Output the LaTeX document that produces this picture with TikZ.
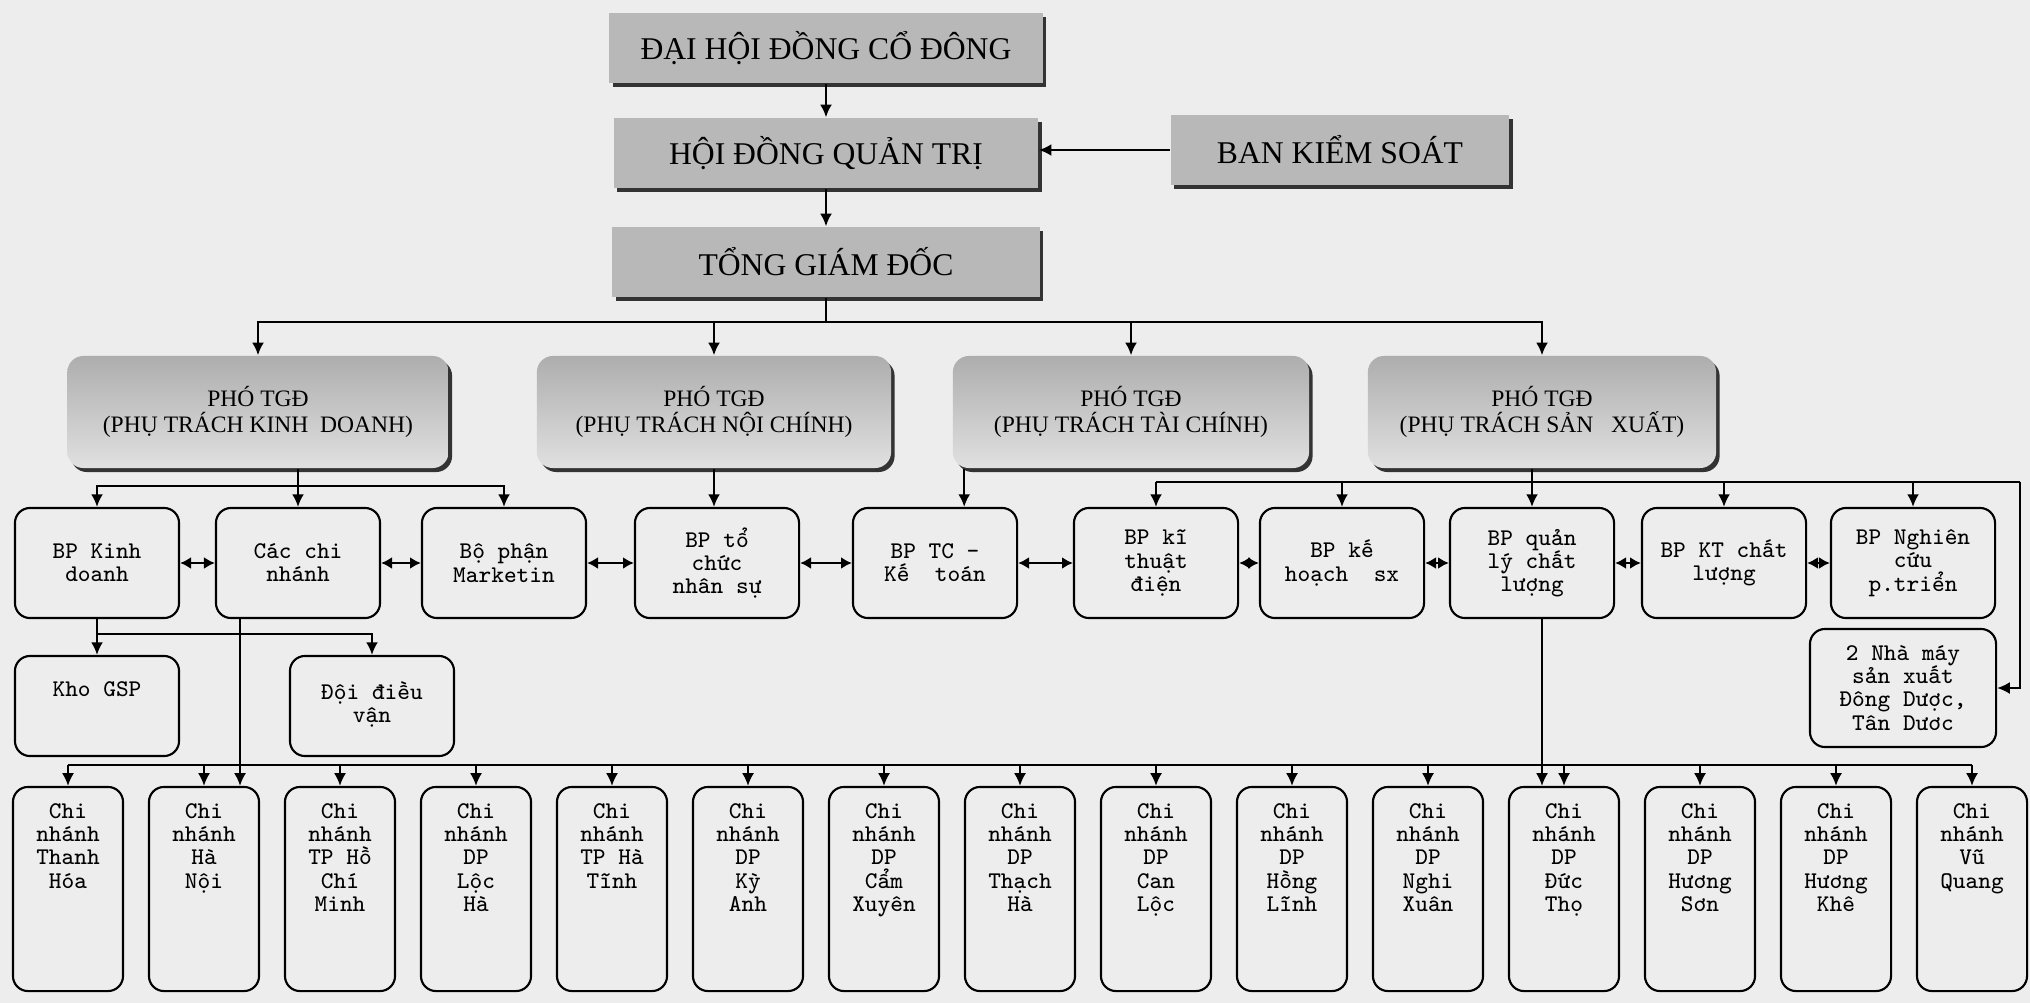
\documentclass[tikz,border=0pt]{standalone}
\usepackage{fontspec}
\setmainfont{Liberation Serif}
\usetikzlibrary{arrows.meta,shadows}

\begin{document}
\begin{tikzpicture}[x=0.01cm,y=-0.01cm,
		topbox/.style={fill=black!28,general shadow={fill=black!80,shadow xshift=0.035cm,shadow yshift=-0.04cm},minimum height=0.7cm,font=\fontsize{9}{11}\selectfont},
		vpbox/.style={top color=black!32,bottom color=black!12,general shadow={fill=black!80,shadow xshift=0.035cm,shadow yshift=-0.04cm},rounded corners=0.16cm,minimum height=1.12cm,align=center,font=\fontsize{6.7}{7.4}\selectfont},
		deptbox/.style={draw,rounded corners=0.15cm,line width=0.6pt,minimum width=1.64cm,minimum height=1.1cm,align=center,font=\ttfamily\fontsize{6.8}{6.6}\selectfont},
		cnbox/.style={draw,rounded corners=0.15cm,line width=0.6pt,minimum width=1.1cm,minimum height=2.04cm},
		toptext/.style={anchor=north,yshift=-0.17cm,inner sep=0pt,align=center,font=\ttfamily\fontsize{6.8}{6.6}\selectfont},
		arr/.style={-{Latex[length=3.6pt,width=3.4pt]},line width=0.6pt},
		dblarr/.style={{Latex[length=3.1pt,width=3.4pt]}-{Latex[length=3.1pt,width=3.4pt]},line width=0.6pt}]
		\fill[black!7,use as bounding box] (0,0) rectangle (2030,1003);
		% ban lanh dao
		\node[topbox,minimum width=4.33cm] (dh) at (826,48) {ĐẠI HỘI ĐỒNG CỔ ĐÔNG};
		\node[topbox,minimum width=4.24cm] (hd) at (826,153) {HỘI ĐỒNG QUẢN TRỊ};
		\node[topbox,minimum width=3.38cm] (bks) at (1340,150) {BAN KIỂM SOÁT};
		\node[topbox,minimum width=4.27cm] (tgd) at (826,262) {TỔNG GIÁM ĐỐC};
		\draw[arr] (dh) -- (hd);
		\draw[arr] (hd) -- (tgd);
		\draw[arr] (bks.west) -- (bks.west -| hd.east);
		% pho tong giam doc
		\node[vpbox,minimum width=3.81cm] (pkd) at (258,412) {PHÓ TGĐ\\(PHỤ TRÁCH KINH~ DOANH)};
		\node[vpbox,minimum width=3.54cm] (pnc) at (714,412) {PHÓ TGĐ\\(PHỤ TRÁCH NỘI CHÍNH)};
		\node[vpbox,minimum width=3.56cm] (ptc) at (1131,412) {PHÓ TGĐ\\(PHỤ TRÁCH TÀI CHÍNH)};
		\node[vpbox,minimum width=3.48cm] (psx) at (1542,412) {PHÓ TGĐ\\(PHỤ TRÁCH SẢN~~ XUẤT)};
		\coordinate (tgdbus) at (826,322);
		\draw (tgd.south) -- (tgdbus);
		\foreach \n in {pkd,pnc,ptc,psx}
			\draw[arr] (tgdbus) -| (\n.north);
		% cac bo phan
		\node[deptbox] (bkd) at (97,563) {BP Kinh\\doanh};
		\node[deptbox] (ccn) at (298,563) {Các chi\\nhánh};
		\node[deptbox] (mkt) at (504,563) {Bộ phận\\Marketin};
		\node[deptbox] (tcns) at (717,563) {BP tổ\\chức\\nhân sự};
		\node[deptbox] (tckt) at (935,563) {BP TC -\\Kế~ toán};
		\node[deptbox] (ktd) at (1156,563) {BP kĩ\\thuật\\điện};
		\node[deptbox] (khsx) at (1342,563) {BP kế\\hoạch~ sx};
		\node[deptbox] (qlcl) at (1532,563) {BP quản\\lý chất\\lượng};
		\node[deptbox] (ktcl) at (1724,563) {BP KT chất\\lượng};
		\node[deptbox] (nc) at (1913,563) {BP Nghiên\\cứu\\p.triển};
		\node[deptbox,minimum width=1.86cm,minimum height=1.18cm] (nm) at (1903,688) {2 Nhà máy\\sản xuất\\Đông Dược,\\Tân Dươc};
		\node[deptbox,minimum height=1cm,label={[toptext,yshift=-0.09cm]north:Kho GSP}] (kho) at (97,706) {};
		\node[deptbox,minimum height=1cm,label={[toptext,yshift=-0.09cm]north:Đội điều\\vận}] (doi) at (372,706) {};
		\foreach \a/\b in {bkd/ccn,ccn/mkt,mkt/tcns,tcns/tckt,tckt/ktd,ktd/khsx,khsx/qlcl,qlcl/ktcl,ktcl/nc}
			\draw[dblarr] (\a) -- (\b);
		% kinh doanh
		\coordinate (kdbus) at (298,486);
		\draw (pkd.south -| kdbus) -- (kdbus);
		\draw[arr] (kdbus) -- (ccn.north);
		\draw[arr] (kdbus) -| (bkd.north);
		\draw[arr] (kdbus) -| (mkt.north);
		\coordinate (khobus) at (97,634);
		\draw[arr] (bkd.south) -- (kho.north);
		\draw[arr] (khobus) -| (doi.north);
		% noi chinh, tai chinh
		\draw[arr] (pnc.south) -- (pnc.south |- tcns.north);
		\draw[arr] ([xshift=0.12cm]ptc.south west) -- ([xshift=0.12cm]ptc.south west |- tckt.north);
		% san xuat
		\coordinate (sxbus) at (1532,482);
		\coordinate (sxr) at (2020,482);
		\draw (psx.south -| sxbus) -- (sxbus);
		\draw (ktd.north |- sxbus) -- (sxr);
		\foreach \n in {ktd,khsx,qlcl,ktcl,nc}
			\draw[arr] (\n.north |- sxbus) -- (\n.north);
		\draw[arr] (sxr) |- (nm.east);
		% chi nhanh
		\foreach \t [count=\i] in {{Chi\\nhánh\\Thanh\\Hóa},{Chi\\nhánh\\Hà\\Nội},{Chi\\nhánh\\TP Hồ\\Chí\\Minh},{Chi\\nhánh\\DP\\Lộc\\Hà},{Chi\\nhánh\\TP Hà\\Tĩnh},{Chi\\nhánh\\DP\\Kỳ\\Anh},{Chi\\nhánh\\DP\\Cẩm\\Xuyên},{Chi\\nhánh\\DP\\Thạch\\Hà},{Chi\\nhánh\\DP\\Can\\Lộc},{Chi\\nhánh\\DP\\Hồng\\Lĩnh},{Chi\\nhánh\\DP\\Nghi\\Xuân},{Chi\\nhánh\\DP\\Đức\\Thọ},{Chi\\nhánh\\DP\\Hương\\Sơn},{Chi\\nhánh\\DP\\Hương\\Khê},{Chi\\nhánh\\Vũ\\Quang}}
			\node[cnbox,label={[toptext]north:\t}] (cn\i) at ({68+136*(\i-1)},889) {};
		\coordinate (cnbus) at (68,765);
		\draw (cn1.north |- cnbus) -- (cn15.north |- cnbus);
		\foreach \i in {1,...,15}
			\draw[arr] (cn\i.north |- cnbus) -- (cn\i.north);
		\draw[arr] ([xshift=0.36cm]cn2.north |- ccn.south) -- ([xshift=0.36cm]cn2.north);
		\draw[arr] ([xshift=-0.22cm]cn12.north |- qlcl.south) -- ([xshift=-0.22cm]cn12.north);
	\end{tikzpicture}
\end{document}
